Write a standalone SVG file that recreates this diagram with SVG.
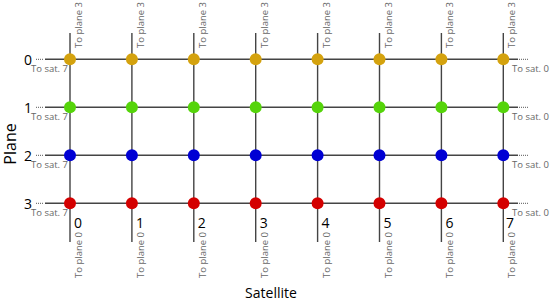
<svg xmlns="http://www.w3.org/2000/svg" width="550" height="301" viewBox="0 0 550 301">
<style>
.ln{stroke:#444;stroke-width:1.4;fill:none}
.dt{stroke:#555;stroke-width:1;stroke-dasharray:1,1;fill:none}
.sm{font-family:"Open Sans","Noto Sans",sans-serif;font-size:9.5px;fill:#666}
.lb{font-family:"Open Sans","Noto Sans",sans-serif;font-size:14px;fill:#000}
.ax{font-family:"Open Sans","Noto Sans",sans-serif;font-size:14px;fill:#000}
.c0{fill:#d4a20e}.c1{fill:#55d40a}.c2{fill:#0000d4}.c3{fill:#d40000}
</style>
<rect width="550" height="301" fill="#fff"/>
<g id="connectors">
<path class="ln" d="M70 33V242M131.9 33V242M193.8 33V242M255.7 33V242M317.6 33V242M379.5 33V242M441.4 33V242M503.3 33V242"/>
<path class="ln" d="M45 59.3H518M45 107.3H518M45 155.3H518M45 203.3H518"/>
<path class="dt" d="M36 59.3H44M36 107.3H44M36 155.3H44M36 203.3H44M519 59.3H528M519 107.3H528M519 155.3H528M519 203.3H528"/>
</g>
<g id="labels-top" class="sm">
<text transform="translate(82,48) rotate(-90)">To plane 3</text>
<text transform="translate(143.9,48) rotate(-90)">To plane 3</text>
<text transform="translate(205.8,48) rotate(-90)">To plane 3</text>
<text transform="translate(267.7,48) rotate(-90)">To plane 3</text>
<text transform="translate(329.6,48) rotate(-90)">To plane 3</text>
<text transform="translate(391.5,48) rotate(-90)">To plane 3</text>
<text transform="translate(453.4,48) rotate(-90)">To plane 3</text>
<text transform="translate(515.3,48) rotate(-90)">To plane 3</text>
</g>
<g id="labels-bottom" class="sm">
<text transform="translate(82,278) rotate(-90)">To plane 0</text>
<text transform="translate(143.9,278) rotate(-90)">To plane 0</text>
<text transform="translate(205.8,278) rotate(-90)">To plane 0</text>
<text transform="translate(267.7,278) rotate(-90)">To plane 0</text>
<text transform="translate(329.6,278) rotate(-90)">To plane 0</text>
<text transform="translate(391.5,278) rotate(-90)">To plane 0</text>
<text transform="translate(453.4,278) rotate(-90)">To plane 0</text>
<text transform="translate(515.3,278) rotate(-90)">To plane 0</text>
</g>
<g id="labels-left" class="sm" text-anchor="end">
<text x="68" y="72">To sat. 7</text>
<text x="68" y="120">To sat. 7</text>
<text x="68" y="168">To sat. 7</text>
<text x="68" y="216">To sat. 7</text>
</g>
<g id="labels-right" class="sm">
<text x="512" y="72">To sat. 0</text>
<text x="512" y="120">To sat. 0</text>
<text x="512" y="168">To sat. 0</text>
<text x="512" y="216">To sat. 0</text>
</g>
<g id="row-labels" class="lb" text-anchor="end">
<text x="32" y="64.5">0</text>
<text x="32" y="112.5">1</text>
<text x="32" y="160.5">2</text>
<text x="32" y="208.5">3</text>
</g>
<g id="col-labels" class="lb">
<text x="74" y="228">0</text>
<text x="135.9" y="228">1</text>
<text x="197.8" y="228">2</text>
<text x="259.7" y="228">3</text>
<text x="321.6" y="228">4</text>
<text x="383.5" y="228">5</text>
<text x="445.4" y="228">6</text>
<text x="506" y="228">7</text>
</g>
<text id="axis-plane" class="ax" style="font-size:16px" text-anchor="middle" transform="translate(16,144) rotate(-90)">Plane</text>
<text id="axis-satellite" class="ax" text-anchor="middle" x="271" y="298">Satellite</text>
<g id="row0" class="c0">
<circle cx="70" cy="59.3" r="6"/><circle cx="131.9" cy="59.3" r="6"/><circle cx="193.8" cy="59.3" r="6"/><circle cx="255.7" cy="59.3" r="6"/><circle cx="317.6" cy="59.3" r="6"/><circle cx="379.5" cy="59.3" r="6"/><circle cx="441.4" cy="59.3" r="6"/><circle cx="503.3" cy="59.3" r="6"/>
</g>
<g id="row1" class="c1">
<circle cx="70" cy="107.3" r="6"/><circle cx="131.9" cy="107.3" r="6"/><circle cx="193.8" cy="107.3" r="6"/><circle cx="255.7" cy="107.3" r="6"/><circle cx="317.6" cy="107.3" r="6"/><circle cx="379.5" cy="107.3" r="6"/><circle cx="441.4" cy="107.3" r="6"/><circle cx="503.3" cy="107.3" r="6"/>
</g>
<g id="row2" class="c2">
<circle cx="70" cy="155.3" r="6"/><circle cx="131.9" cy="155.3" r="6"/><circle cx="193.8" cy="155.3" r="6"/><circle cx="255.7" cy="155.3" r="6"/><circle cx="317.6" cy="155.3" r="6"/><circle cx="379.5" cy="155.3" r="6"/><circle cx="441.4" cy="155.3" r="6"/><circle cx="503.3" cy="155.3" r="6"/>
</g>
<g id="row3" class="c3">
<circle cx="70" cy="203.3" r="6"/><circle cx="131.9" cy="203.3" r="6"/><circle cx="193.8" cy="203.3" r="6"/><circle cx="255.7" cy="203.3" r="6"/><circle cx="317.6" cy="203.3" r="6"/><circle cx="379.5" cy="203.3" r="6"/><circle cx="441.4" cy="203.3" r="6"/><circle cx="503.3" cy="203.3" r="6"/>
</g>
</svg>
